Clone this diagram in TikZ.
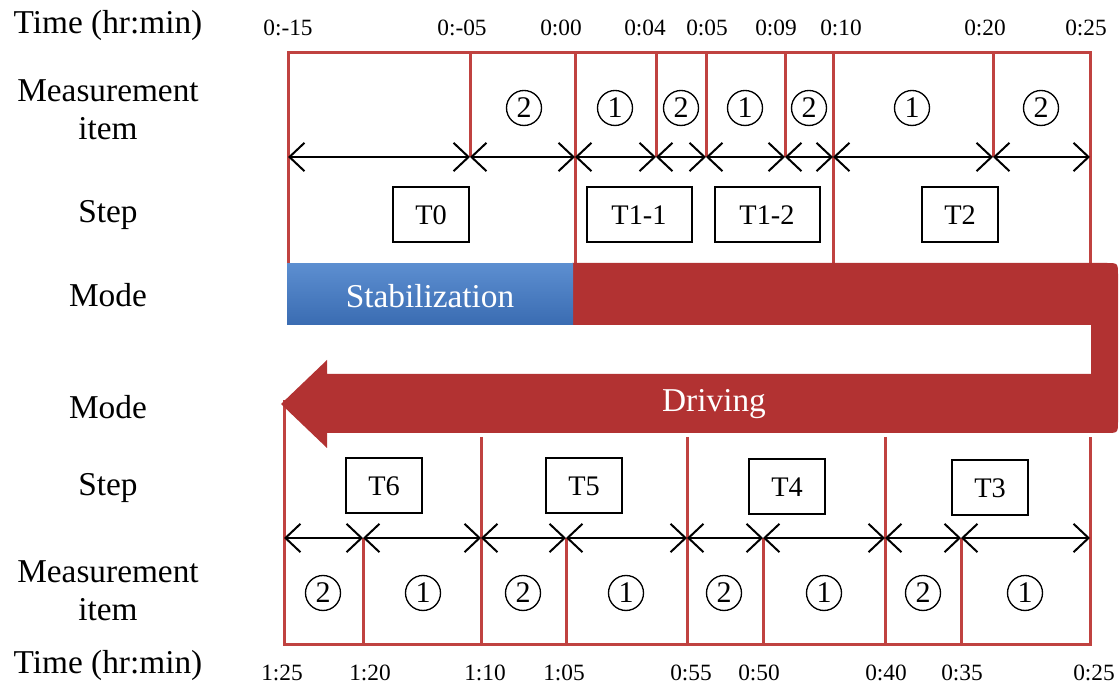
\documentclass[tikz,border=0pt]{standalone}
\usepackage{fontspec}
\setmainfont{Liberation Serif}
\usetikzlibrary{arrows.meta}

\definecolor{framered}{RGB}{192,66,64}
\definecolor{drivered}{RGB}{178,50,50}
\definecolor{stabtop}{RGB}{92,142,208}
\definecolor{stabbot}{RGB}{58,108,178}

\tikzset{
  redframe/.style={draw=framered, line width=0.9pt},
  spanarrow/.style={{Straight Barb[length=4.5pt,width=8.5pt]}-{Straight Barb[length=4.5pt,width=8.5pt]}, line width=0.6pt},
  rowlabel/.style={font=\fontsize{10}{11.5}\selectfont, align=center},
  timelabel/.style={font=\fontsize{7}{8}\selectfont},
  stepbox/.style={draw, line width=0.6pt, minimum width=23pt, minimum height=16.5pt, font=\fontsize{8.5}{9}\selectfont},
  itemcirc/.style={circle, draw, line width=0.4pt, inner sep=0pt, minimum size=10.5pt, font=\fontsize{9}{10}\selectfont},
  modetext/.style={text=white, font=\fontsize{10}{11}\selectfont},
}

\begin{document}
\begin{tikzpicture}[x=0.3pt, y=-0.3pt]
    \useasboundingbox (0,0) rectangle (1120,686);
    % row labels
    \node[rowlabel] (timeA) at (108,25) {Time (hr:min)};
    \node[rowlabel] (measA) at (108,110) {Measurement\\item};
    \node[rowlabel] (stepA) at (108,215) {Step};
    \node[rowlabel] (modeA) at (108,295) {Mode};
    \node[rowlabel] (modeB) at (108,407) {Mode};
    \node[rowlabel] (stepB) at (108,488) {Step};
    \node[rowlabel] (measB) at (108,591) {Measurement\\item};
    \node[rowlabel] (timeB) at (108,665) {Time (hr:min)};

    % upper frame
    \draw[redframe] (288,265) -- (288,53) -- (1090,53) -- (1090,265);
    \draw[redframe] (470,53) -- (470,157);
    \draw[redframe] (575,53) -- (575,265);
    \draw[redframe] (656,53) -- (656,157);
    \draw[redframe] (706,53) -- (706,157);
    \draw[redframe] (785,53) -- (785,157);
    \draw[redframe] (833,53) -- (833,265);
    \draw[redframe] (993,53) -- (993,157);

    % lower frame
    \draw[redframe] (284,400) -- (284,645) -- (1090,645) -- (1090,437);
    \draw[redframe] (481,437) -- (481,645);
    \draw[redframe] (687,437) -- (687,645);
    \draw[redframe] (885,437) -- (885,645);
    \draw[redframe] (363,538) -- (363,645);
    \draw[redframe] (566,538) -- (566,645);
    \draw[redframe] (763,538) -- (763,645);
    \draw[redframe] (961,538) -- (961,645);

    % mode bands
    \fill[drivered] (572,263) -- (1106,263) .. controls (1118,263) .. (1118,275)
        -- (1118,421) .. controls (1118,433) .. (1106,433) -- (327,433) -- (327,448)
        -- (281,404) -- (327,360) -- (327,374) -- (1091,374) -- (1091,325) -- (572,325) -- cycle;
    \shade[top color=stabtop, bottom color=stabbot] (287,264) rectangle (573,325);
    \node[modetext] (stab) at (430,296) {Stabilization};
    \node[modetext] (drive) at (714,404) {Driving};

    % upper time marks
    \coordinate (a0) at (288,157);
    \coordinate (a1) at (470,157);
    \coordinate (a2) at (575,157);
    \coordinate (a3) at (656,157);
    \coordinate (a4) at (706,157);
    \coordinate (a5) at (785,157);
    \coordinate (a6) at (833,157);
    \coordinate (a7) at (993,157);
    \coordinate (a8) at (1090,157);
    \draw[spanarrow] (a0) -- (a1);
    \draw[spanarrow] (a1) -- (a2);
    \draw[spanarrow] (a2) -- (a3);
    \draw[spanarrow] (a3) -- (a4);
    \draw[spanarrow] (a4) -- (a5);
    \draw[spanarrow] (a5) -- (a6);
    \draw[spanarrow] (a6) -- (a7);
    \draw[spanarrow] (a7) -- (a8);

    % lower time marks
    \coordinate (b0) at (284,538);
    \coordinate (b1) at (363,538);
    \coordinate (b2) at (481,538);
    \coordinate (b3) at (566,538);
    \coordinate (b4) at (687,538);
    \coordinate (b5) at (763,538);
    \coordinate (b6) at (885,538);
    \coordinate (b7) at (961,538);
    \coordinate (b8) at (1090,538);
    \draw[spanarrow] (b0) -- (b1);
    \draw[spanarrow] (b1) -- (b2);
    \draw[spanarrow] (b2) -- (b3);
    \draw[spanarrow] (b3) -- (b4);
    \draw[spanarrow] (b4) -- (b5);
    \draw[spanarrow] (b5) -- (b6);
    \draw[spanarrow] (b6) -- (b7);
    \draw[spanarrow] (b7) -- (b8);

    % upper times
    \node[timelabel] (u0) at (288,28) {0:-15};
    \node[timelabel] (u1) at (462,28) {0:-05};
    \node[timelabel] (u2) at (561,28) {0:00};
    \node[timelabel] (u3) at (645,28) {0:04};
    \node[timelabel] (u4) at (707,28) {0:05};
    \node[timelabel] (u5) at (776,28) {0:09};
    \node[timelabel] (u6) at (841,28) {0:10};
    \node[timelabel] (u7) at (985,28) {0:20};
    \node[timelabel] (u8) at (1086,28) {0:25};

    % lower times
    \node[timelabel] (l0) at (282,673) {1:25};
    \node[timelabel] (l1) at (370,673) {1:20};
    \node[timelabel] (l2) at (485,673) {1:10};
    \node[timelabel] (l3) at (564,673) {1:05};
    \node[timelabel] (l4) at (691,673) {0:55};
    \node[timelabel] (l5) at (759,673) {0:50};
    \node[timelabel] (l6) at (886,673) {0:40};
    \node[timelabel] (l7) at (962,673) {0:35};
    \node[timelabel] (l8) at (1094,673) {0:25};

    % measurement items, upper
    \node[itemcirc] (mu1) at (524,108) {2};
    \node[itemcirc] (mu2) at (615,108) {1};
    \node[itemcirc] (mu3) at (681,108) {2};
    \node[itemcirc] (mu4) at (745,108) {1};
    \node[itemcirc] (mu5) at (809,108) {2};
    \node[itemcirc] (mu6) at (912,108) {1};
    \node[itemcirc] (mu7) at (1041,108) {2};

    % measurement items, lower
    \node[itemcirc] (ml1) at (323,593) {2};
    \node[itemcirc] (ml2) at (423,593) {1};
    \node[itemcirc] (ml3) at (523,593) {2};
    \node[itemcirc] (ml4) at (626,593) {1};
    \node[itemcirc] (ml5) at (724,593) {2};
    \node[itemcirc] (ml6) at (824,593) {1};
    \node[itemcirc] (ml7) at (923,593) {2};
    \node[itemcirc] (ml8) at (1025,593) {1};

    % steps
    \node[stepbox] (T0) at (431,215) {T0};
    \node[stepbox, minimum width=31.5pt] (T11) at (639,215) {T1-1};
    \node[stepbox, minimum width=31.5pt] (T12) at (767,215) {T1-2};
    \node[stepbox] (T2) at (960,215) {T2};
    \node[stepbox] (T6) at (384,486) {T6};
    \node[stepbox] (T5) at (584,486) {T5};
    \node[stepbox] (T4) at (787,487) {T4};
    \node[stepbox] (T3) at (990,488) {T3};
\end{tikzpicture}
\end{document}
